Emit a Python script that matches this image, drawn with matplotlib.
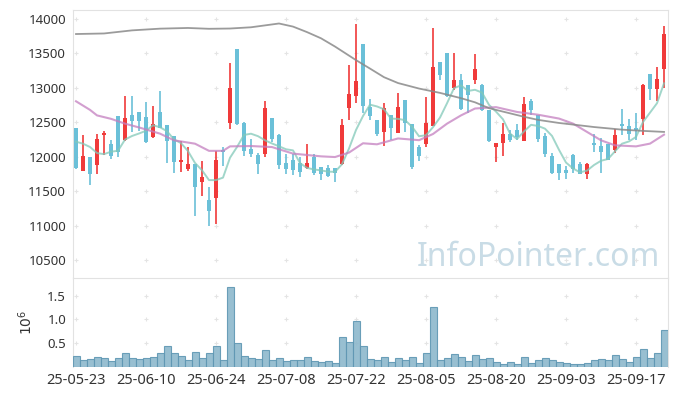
import numpy as np
import matplotlib
matplotlib.use("Agg")
import matplotlib.pyplot as plt

# trading days 25-05-23 .. 25-09-23, labels every 10th day
tick_labels = ['25-05-23', '25-06-10', '25-06-24', '25-07-08', '25-07-22',
               '25-08-05', '25-08-20', '25-09-03', '25-09-17']

opens = [12410, 11790, 11990, 11880, 12315, 12180, 12587, 12245, 12600, 12645,
         12573, 12290, 12645, 12455, 12296, 11917, 11820, 11898, 11631, 11364,
         11398, 12100, 12490, 13558, 12495, 12116, 12019, 12034, 12558, 12310,
         11903, 11946, 11903, 11835, 11995, 11844, 11830, 11830, 11888, 12709,
         12883, 13636, 12718, 12529, 12359, 12602, 12345, 12820, 12470, 12141,
         12179, 12446, 13374, 13510, 13005, 13112, 13039, 13121, 13039, 12675,
         12141, 12199, 12335, 12383, 12228, 12806, 12612, 12296, 12014, 11898,
         11801, 12019, 11898, 11752, 12204, 12150, 12190, 12097, 12480, 12441,
         12417, 12553, 13199, 12990, 13281]
highs = [12410, 12320, 11990, 12335, 12380, 12240, 12590, 12875, 12875, 12650,
         12796, 12730, 12950, 12460, 12300, 12228, 12141, 11900, 11932, 11558,
         12082, 12140, 13354, 13560, 12500, 12262, 12058, 12806, 12560, 12335,
         12043, 12043, 11995, 12179, 12034, 11850, 11878, 11835, 12543, 13325,
         13922, 13640, 12840, 12530, 12777, 12605, 12922, 12830, 12470, 12165,
         12874, 13864, 13375, 13512, 13500, 13199, 13040, 13490, 13063, 12675,
         12204, 12490, 12393, 12471, 12869, 12845, 12612, 12345, 12053, 11900,
         11869, 12034, 11922, 11907, 12335, 12277, 12190, 12407, 12699, 12553,
         12636, 13054, 13200, 13296, 13898]
lows = [11820, 11790, 11590, 11750, 12030, 11970, 11995, 12235, 12360, 12380,
        12200, 12265, 12410, 11910, 11767, 11781, 11790, 11145, 11432, 10990,
        11024, 11860, 12407, 12466, 12014, 12000, 11752, 11995, 12213, 11820,
        11752, 11728, 11699, 11820, 11728, 11655, 11700, 11631, 11874, 12539,
        12786, 12641, 12529, 12296, 12155, 12238, 12345, 12359, 11825, 11937,
        12141, 12440, 13112, 12869, 12966, 12684, 12636, 13054, 12670, 12213,
        11927, 12010, 12213, 12247, 12228, 12602, 12213, 11995, 11752, 11665,
        11680, 11767, 11750, 11670, 12068, 11757, 11946, 12058, 12320, 12247,
        12238, 12310, 12820, 12810, 13005]
closes = [11835, 12005, 11745, 12260, 12340, 12015, 12070, 12560, 12520, 12520,
          12213, 12470, 12415, 12233, 11922, 11946, 11888, 11558, 11699, 11208,
          11946, 12068, 13005, 12480, 12082, 12034, 11888, 12704, 12252, 11878,
          11820, 11806, 11777, 11903, 11767, 11752, 11718, 11762, 12456, 12908,
          13097, 12733, 12587, 12325, 12704, 12417, 12718, 12490, 11849, 12010,
          12495, 13301, 13189, 12883, 13112, 12694, 12898, 13272, 12679, 12223,
          12204, 12335, 12238, 12286, 12772, 12684, 12257, 12034, 11762, 11762,
          11762, 11825, 11752, 11888, 12170, 12068, 11956, 12310, 12441, 12335,
          12393, 13039, 12990, 13126, 13782]
volumes = [229000, 146000, 167000, 201000, 181000, 125000, 181000, 292000, 181000, 167000,
           181000, 201000, 292000, 431000, 292000, 229000, 146000, 313000, 188000, 292000,
           431000, 146000, 1688000, 500000, 229000, 188000, 167000, 354000, 146000, 188000,
           125000, 146000, 146000, 201000, 125000, 104000, 125000, 80000, 625000, 521000,
           958000, 451000, 160000, 146000, 201000, 97000, 181000, 146000, 201000, 76000,
           292000, 1271000, 146000, 181000, 264000, 201000, 118000, 243000, 167000, 181000,
           97000, 56000, 97000, 56000, 201000, 76000, 146000, 181000, 146000, 97000,
           76000, 56000, 56000, 76000, 146000, 167000, 146000, 243000, 167000, 97000,
           201000, 368000, 181000, 292000, 785000]

# moving averages
ma5 = [12218, 12189, 12141, 12053, 12037, 12073, 12086, 12249, 12301, 12337,
       12377, 12457, 12428, 12370, 12251, 12197, 12081, 11909, 11803, 11660,
       11660, 11696, 11985, 12141, 12316, 12334, 12298, 12238, 12192, 12151,
       12108, 12092, 11907, 11837, 11815, 11801, 11783, 11780, 11891, 12119,
       12388, 12591, 12756, 12730, 12689, 12553, 12550, 12531, 12436, 12297,
       12312, 12429, 12569, 12776, 12996, 13036, 12955, 12972, 12931, 12753,
       12655, 12543, 12336, 12257, 12367, 12463, 12447, 12407, 12302, 12100,
       11915, 11829, 11773, 11798, 11879, 11941, 11967, 12078, 12189, 12222,
       12287, 12504, 12640, 12777, 13066]
ma20_idx = [0, 2, 3, 5, 7, 9, 12, 14, 17, 19, 21, 22, 25, 28, 31, 35, 37, 39, 41,
            43, 46, 49, 51, 53, 55, 57, 60, 63, 66, 69, 71, 73, 75, 77, 80, 82, 84]
ma20 = [12805, 12680, 12600, 12550, 12480, 12425, 12335, 12238, 12189, 12085,
        12085, 12150, 12155, 12140, 12045, 12005, 11995, 12060, 12195, 12180,
        12265, 12240, 12330, 12480, 12600, 12700, 12720, 12650, 12610, 12554,
        12481, 12360, 12238, 12165, 12150, 12190, 12320]
ma60_idx = [0, 4, 8, 12, 16, 19, 22, 25, 29, 31, 33, 35, 37, 40, 42, 44, 46, 49,
            52, 55, 57, 59, 62, 64, 66, 69, 72, 74, 78, 81, 84]
ma60 = [13782, 13790, 13835, 13860, 13870, 13858, 13862, 13880, 13935, 13890,
        13810, 13720, 13600, 13403, 13280, 13155, 13070, 12990, 12927, 12850,
        12790, 12705, 12630, 12580, 12535, 12490, 12455, 12431, 12393, 12375,
        12360]

red = '#f03a3a'
blue = '#6bc0d8'
grid_c = '#e4e4e4'
spine_c = '#e2e2e2'
txt_c = '#333333'

plt.rcParams['font.family'] = ['Noto Sans', 'DejaVu Sans']

fig = plt.figure(figsize=(6.77, 3.96), dpi=100)
ax = fig.add_axes([73/677, 1-278/396, 595/677, 268/396])
axv = fig.add_axes([73/677, 1-367/396, 595/677, 89/396], sharex=ax)

x = np.arange(len(closes))
o = np.array(opens)
c = np.array(closes)
up = c >= o
cols = np.where(up, red, blue)

ax.vlines(x, lows, highs, colors=cols, linewidth=1.2, zorder=2)
body = np.maximum(np.abs(c - o), 15)
ax.bar(x, body, bottom=np.minimum(o, c), width=0.7, color=cols, linewidth=0, zorder=3)

ax.plot(x, ma5, color='#82c9b9', lw=1.4, alpha=0.75, zorder=4)
ax.plot(ma20_idx, ma20, color='#c47fc0', lw=1.5, alpha=0.75, zorder=4)
ax.plot(ma60_idx, ma60, color='#8a8a8a', lw=1.3, alpha=0.85, zorder=4)

yt = np.arange(10500, 14001, 500)
xt = np.arange(0, 81, 10)
gx, gy = np.meshgrid(xt, yt)
ax.scatter(gx.ravel(), gy.ravel(), marker='+', s=12, color=grid_c, lw=0.8, zorder=1)

ax.set_xlim(-0.43, 84.57)
ax.set_ylim(10238, 14131)
ax.set_yticks(yt)
ax.tick_params(axis='y', length=0, labelsize=9.5, colors=txt_c, pad=5)
ax.tick_params(axis='x', length=0, labelbottom=False)
for s in ax.spines.values():
    s.set_color(spine_c)
ax.spines['bottom'].set_visible(False)

ax.text(538/677, 1-257/396, 'InfoPointer.com', transform=fig.transFigure,
        ha='center', va='center', fontsize=23, color='#c9dce6', zorder=0)

# volume panel
axv.bar(x, volumes, width=1.0, color='#8db8cc', edgecolor='#5f97b3',
        linewidth=0.8, alpha=0.9, zorder=3)
vt = [500000, 1000000, 1500000]
gx, gy = np.meshgrid(xt, vt)
axv.scatter(gx.ravel(), gy.ravel(), marker='+', s=12, color=grid_c, lw=0.8, zorder=1)
axv.set_ylim(0, 1870000)
axv.set_yticks(vt)
axv.set_yticklabels(['0.5', '1.0', '1.5'])
axv.set_xticks(xt)
axv.set_xticklabels(tick_labels)
axv.tick_params(axis='y', length=0, labelsize=9.5, colors=txt_c, pad=5)
axv.tick_params(axis='x', length=0, labelsize=10.5, colors=txt_c, pad=4)
for s in axv.spines.values():
    s.set_color(spine_c)
axv.spines['bottom'].set_visible(False)
axv.set_ylabel('$10^6$', fontsize=10, color=txt_c, labelpad=8)

fig.savefig('out.png', dpi=100)
